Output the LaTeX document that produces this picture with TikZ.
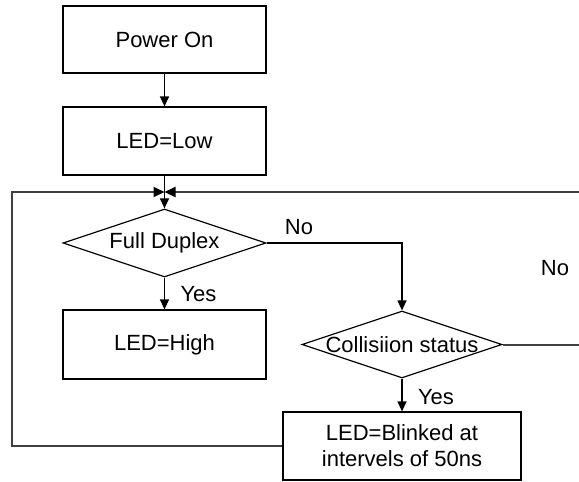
\documentclass[tikz,border=0pt]{standalone}
\usepackage{fontspec}
\setmainfont{Liberation Sans}
\usetikzlibrary{shapes.geometric,arrows.meta}
\definecolor{loopgray}{RGB}{64,64,64}

\begin{document}
\begin{tikzpicture}[x=1pt,y=1pt,font=\fontsize{22}{26}\selectfont,
    >={Triangle[length=10pt,width=9pt]},
    stepbox/.style={draw,line width=1.2pt,inner sep=0pt,align=center},
    decision/.style={draw,diamond,line width=1.2pt,inner sep=0pt},
    flow/.style={->,line width=1.2pt},
    loopline/.style={-{Triangle[length=11pt,width=10pt,black]},loopgray,line width=2pt},
    tag/.style={inner sep=0pt}]
        \useasboundingbox (0,0) rectangle (579,-482);
        \node[stepbox,minimum width=203pt,minimum height=67pt] (pwr) at (164.5,-39.5) {Power On};
        \node[stepbox,minimum width=203pt,minimum height=68pt] (low) at (164.5,-141) {LED=Low};
        \node[decision,minimum width=203pt,minimum height=68pt,label=center:{Full Duplex}] (duplex) at (164.5,-243) {};
        \node[stepbox,minimum width=203pt,minimum height=69pt] (high) at (164.5,-344.5) {LED=High};
        \node[decision,minimum width=200pt,minimum height=67pt,label=center:{Collisiion status}] (coll) at (402,-344.5) {};
        \node[stepbox,minimum width=238pt,minimum height=68pt] (blink) at (402,-446) {LED=Blinked at\\intervels of 50ns};
        \coordinate (join) at (164.5,-192);
        \draw[flow] (pwr) -- (low); \draw[flow] (low) -- (duplex);
        \draw[flow] (duplex) -- (high); \draw[flow] (duplex.east) -| (coll.north);
        \draw[flow] (coll) -- (blink);
        \draw[loopline] (blink.west) -| (12,-300) |- (join);
        \draw[loopline] (coll.east) -- (590,-344.5) |- (join);
        \node[tag] (yes1) at (198.5,-294) {Yes}; \node[tag] (no1) at (299,-227) {No};
        \node[tag] (yes2) at (436,-397) {Yes}; \node[tag] (no2) at (555,-268) {No};
      \end{tikzpicture}
\end{document}
